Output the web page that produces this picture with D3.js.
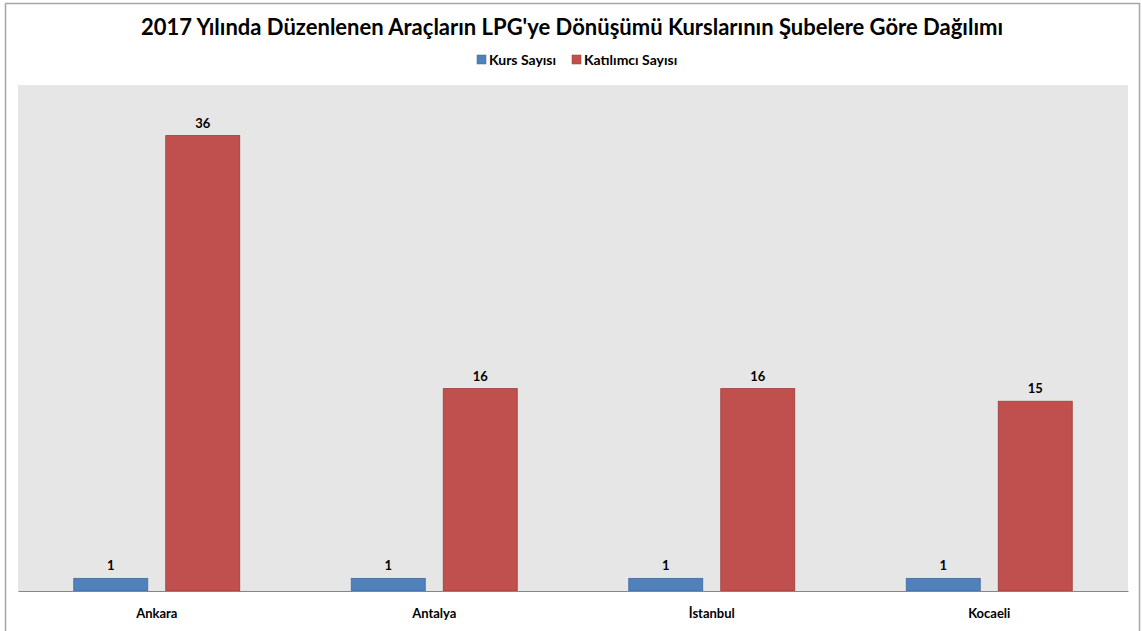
<!DOCTYPE html>
<html>
<head>
<meta charset="utf-8">
<script src="https://cdn.jsdelivr.net/npm/d3@7"></script>
<style>
  body { margin: 0; background: #fff; }
  text { font-family: Lato, "Open Sans", sans-serif; font-weight: bold; fill: #000; }
</style>
</head>
<body>
<div id="chart"></div>
<script>
var title = "2017 Yılında Düzenlenen Araçların LPG'ye Dönüşümü Kurslarının Şubelere Göre Dağılımı";
var categories = ["Ankara", "Antalya", "İstanbul", "Kocaeli"];
var seriesNames = ["Kurs Sayısı", "Katılımcı Sayısı"];
var kursSayisi = [1, 1, 1, 1];
var katilimciSayisi = [36, 16, 16, 15];
var yMax = 40;

var W = 1142, H = 631;
var colors = ["#4f81bd", "#c0504d"];
var strokes = ["#3f6a9e", "#9c3b38"];
var plot = {left: 18, right: 1128, top: 85, bottom: 591};

var svg = d3.select("#chart").append("svg").attr("width", W).attr("height", H);

// outer frame
svg.append("rect").attr("x", 5.5).attr("y", 3.5).attr("width", 1134).attr("height", 640)
    .attr("fill", "#fff").attr("stroke", "#a6a6a6").attr("stroke-width", 1.5);

// plot background
svg.append("rect").attr("x", plot.left).attr("y", plot.top)
    .attr("width", plot.right - plot.left).attr("height", plot.bottom - plot.top)
    .attr("fill", "#e6e6e6");

svg.append("text").attr("x", 572).attr("y", 35).attr("text-anchor", "middle")
    .style("font-size", "22px").text(title);

var x0 = d3.scaleBand().domain(categories).range([plot.left, plot.right]);
var x1 = d3.scaleBand().domain([0, 1]).range([0, x0.bandwidth()]).paddingInner(0.1957).paddingOuter(0.606);
var y = d3.scaleLinear().domain([0, yMax]).range([plot.bottom, plot.top]);

var series = [kursSayisi, katilimciSayisi];
var g = svg.append("g");
series.forEach(function(vals, s){
    var data = categories.map(function(c, i){ return {cat: c, v: vals[i]}; });
    g.selectAll(".bar" + s).data(data).enter().append("rect")
        .attr("class", "bar" + s)
        .attr("x", function(d){ return x0(d.cat) + x1(s); })
        .attr("width", x1.bandwidth())
        .attr("y", function(d){ return y(d.v); })
        .attr("height", function(d){ return y(0) - y(d.v); })
        .attr("fill", colors[s]).attr("stroke", strokes[s]).attr("stroke-width", 0.8);
    g.selectAll(".lbl" + s).data(data).enter().append("text")
        .attr("x", function(d){ return x0(d.cat) + x1(s) + x1.bandwidth() / 2; })
        .attr("y", function(d){ return y(d.v) - 8; })
        .attr("text-anchor", "middle").style("font-size", "13px")
        .text(function(d){ return d.v; });
});

// x axis
var xAxis = svg.append("g").attr("transform", "translate(0," + plot.bottom + ")")
    .call(d3.axisBottom(x0).tickSize(0).tickPadding(18));
xAxis.select(".domain").attr("stroke", "#868686").attr("stroke-width", 1.2);
xAxis.selectAll("text").style("font-size", "13px").style("font-family", "Lato, sans-serif").style("font-weight", "bold");

// legend
var legend = svg.append("g");
var lx = [477, 572];
seriesNames.forEach(function(n, s){
    legend.append("rect").attr("x", lx[s]).attr("y", 55).attr("width", 9).attr("height", 9)
        .attr("fill", colors[s]).attr("stroke", strokes[s]).attr("stroke-width", 0.5);
    legend.append("text").attr("x", lx[s] + 12).attr("y", 64.5).style("font-size", "14px").text(n);
});
</script>
</body>
</html>
